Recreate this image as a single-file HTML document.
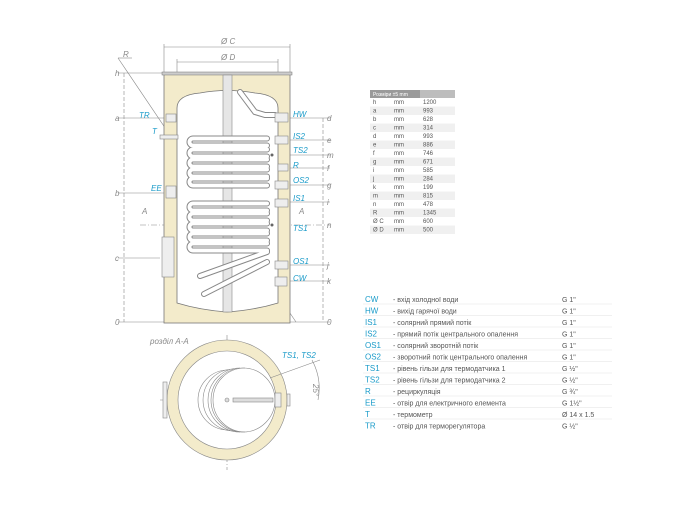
<!DOCTYPE html>
<html><head><meta charset="utf-8"><style>
body{margin:0;background:#fff;width:700px;height:500px;overflow:hidden}
svg text{font-family:"Liberation Sans",sans-serif}
</style></head><body>
<svg width="700" height="500" viewBox="0 0 700 500" xmlns="http://www.w3.org/2000/svg">
<defs>
<path id="lp" d="M267 -3.5 L193 -3.5 A3.5 3.5 0 0 0 193 3.5 L267 3.5"/>
</defs>
<g stroke="#888" stroke-width="0.6" fill="none">
<line x1="164" y1="47" x2="290" y2="47"/><line x1="164" y1="44" x2="164" y2="73"/><line x1="290" y1="44" x2="290" y2="73"/>
<line x1="177" y1="62" x2="278" y2="62"/><line x1="177" y1="59" x2="177" y2="95"/><line x1="278" y1="59" x2="278" y2="95"/>
<line x1="118" y1="73" x2="164" y2="73"/><line x1="118" y1="118" x2="176" y2="118"/><line x1="118" y1="193" x2="176" y2="193"/><line x1="118" y1="258" x2="160" y2="258"/><line x1="118" y1="322" x2="164" y2="322"/>
<line x1="124" y1="73" x2="124" y2="322" stroke-dasharray="4,2"/>
<line x1="290" y1="118" x2="330" y2="118"/><line x1="290" y1="140" x2="330" y2="140"/><line x1="290" y1="155" x2="330" y2="155"/><line x1="290" y1="168" x2="330" y2="168"/><line x1="290" y1="185" x2="330" y2="185"/><line x1="290" y1="202" x2="330" y2="202"/><line x1="140" y1="225" x2="330" y2="225" stroke-dasharray="6,2,1,2"/><line x1="290" y1="265" x2="330" y2="265"/><line x1="290" y1="281" x2="330" y2="281"/><line x1="290" y1="322" x2="330" y2="322"/>
<line x1="323" y1="118" x2="323" y2="322" stroke-dasharray="4,2"/>
<line x1="118" y1="58" x2="296" y2="322"/><line x1="118" y1="58" x2="132" y2="58"/>
</g>
<rect x="164" y="73" width="126" height="250" fill="#f3ebcb" stroke="#777" stroke-width="0.8"/>
<rect x="162" y="72" width="130" height="3" fill="#ccc" stroke="#777" stroke-width="0.5"/>
<path d="M177 108 Q177 95 200 93 Q227 88 255 93 Q278 95 278 108 L278 303 Q255 310 227 312 Q200 310 177 303 Z" fill="#fff" stroke="#777" stroke-width="0.8"/>
<rect x="223" y="75" width="9" height="237" fill="#e6e6e6" stroke="#888" stroke-width="0.6"/>
<g fill="none">
<g stroke="#888" stroke-width="6" stroke-linecap="round">
<path d="M240 92 L255 112 L265 115 L275 115"/>
<use href="#lp" y="142"/><use href="#lp" y="153"/><use href="#lp" y="163"/><use href="#lp" y="173"/><use href="#lp" y="182"/>
<use href="#lp" y="207"/><use href="#lp" y="217"/><use href="#lp" y="227"/><use href="#lp" y="237"/><use href="#lp" y="247"/>
<path d="M267 252 L200 276"/><path d="M267 262 L204 294"/>
</g>
<g stroke="#fff" stroke-width="4" stroke-linecap="round">
<path d="M240 92 L255 112 L265 115 L275 115"/>
<use href="#lp" y="142"/><use href="#lp" y="153"/><use href="#lp" y="163"/><use href="#lp" y="173"/><use href="#lp" y="182"/>
<use href="#lp" y="207"/><use href="#lp" y="217"/><use href="#lp" y="227"/><use href="#lp" y="237"/><use href="#lp" y="247"/>
<path d="M267 252 L200 276"/><path d="M267 262 L204 294"/>
</g></g>
<g fill="#eee" stroke="#888" stroke-width="0.6">
<rect x="275" y="113" width="13" height="9"/><rect x="275" y="136" width="13" height="8"/><rect x="278" y="164" width="10" height="7"/><rect x="275" y="181" width="13" height="8"/><rect x="275" y="199" width="13" height="8"/><rect x="275" y="261" width="13" height="8"/><rect x="275" y="277" width="12" height="9"/>
<rect x="166" y="114" width="10" height="8"/><rect x="166" y="186" width="10" height="12"/><rect x="162" y="237" width="12" height="40"/><rect x="160" y="135" width="18" height="4"/>
</g>
<circle cx="272" cy="155" r="1.5" fill="#666"/><circle cx="272" cy="225" r="1.5" fill="#666"/>
<g font-size="8" font-style="italic" fill="#1a9bc9">
<text x="139" y="118">TR</text><text x="152" y="134">T</text><text x="151" y="191">EE</text>
<text x="293" y="117">HW</text><text x="293" y="139">IS2</text><text x="293" y="153">TS2</text><text x="293" y="168">R</text><text x="293" y="183">OS2</text><text x="293" y="201">IS1</text><text x="293" y="231">TS1</text><text x="293" y="264">OS1</text><text x="293" y="281">CW</text>
<text x="282" y="358">TS1, TS2</text>
</g>
<g font-size="8" font-style="italic" fill="#888">
<text x="115" y="76">h</text><text x="115" y="121">a</text><text x="115" y="196">b</text><text x="115" y="261">c</text><text x="115" y="325">0</text><text x="123" y="57">R</text>
<text x="327" y="121">d</text><text x="327" y="143">e</text><text x="327" y="158">m</text><text x="327" y="171">f</text><text x="327" y="188">g</text><text x="327" y="205">i</text><text x="327" y="228">n</text><text x="327" y="268">j</text><text x="327" y="284">k</text><text x="327" y="325">0</text>
<text x="221" y="44">Ø C</text><text x="221" y="60">Ø D</text><text x="142" y="214">A</text><text x="299" y="214">A</text>
<text x="150" y="344">розділ А-А</text>
</g>
<g stroke="#888" stroke-width="0.6">
<line x1="160" y1="400" x2="292" y2="400" stroke-dasharray="6,2,1,2"/><line x1="227" y1="335" x2="227" y2="470" stroke-dasharray="6,2,1,2"/>
<circle cx="227" cy="400" r="60" fill="#f3ebcb"/><circle cx="227" cy="400" r="49" fill="#fff"/>
<circle cx="243" cy="400" r="32" fill="none"/>
<path d="M245 368 A32 32 0 0 0 245 432" fill="none"/><path d="M240 368 A32 32 0 0 0 240 432" fill="none"/><path d="M234 369 A31 31 0 0 0 234 431" fill="none"/><path d="M228 370 A30 30 0 0 0 228 430" fill="none"/>
<rect x="163" y="382" width="4" height="36" fill="#eee"/><rect x="275" y="393" width="6" height="14" fill="#eee"/><rect x="287" y="394" width="3" height="12" fill="#eee"/>
<rect x="233" y="398" width="40" height="4" fill="#ddd"/><circle cx="227" cy="400" r="2" fill="#ddd"/>
<line x1="270" y1="378" x2="320" y2="360"/><path d="M312 360 A60 60 0 0 1 318 400" fill="none"/>
</g>
<text x="313" y="384" font-size="8" fill="#888" font-style="italic" transform="rotate(90 313 384)">25°</text>
<rect x="370" y="90" width="50" height="8" fill="#9a9a9a"/><rect x="420" y="90" width="35" height="8" fill="#bdbdbd"/>
<text x="373" y="96" font-size="5" fill="#fff">Розміри ±5 mm</text>
<g font-size="6" fill="#555">
<g fill="#f0f0f0">
<rect x="370" y="106.5" width="85" height="8.5"/><rect x="370" y="123.5" width="85" height="8.5"/><rect x="370" y="140.5" width="85" height="8.5"/><rect x="370" y="157.5" width="85" height="8.5"/><rect x="370" y="174.5" width="85" height="8.5"/><rect x="370" y="191.5" width="85" height="8.5"/><rect x="370" y="208.5" width="85" height="8.5"/><rect x="370" y="225.5" width="85" height="8.5"/>
</g>
<text x="373" y="104">h</text><text x="394" y="104">mm</text><text x="423" y="104">1200</text>
<text x="373" y="112.5">a</text><text x="394" y="112.5">mm</text><text x="423" y="112.5">993</text>
<text x="373" y="121">b</text><text x="394" y="121">mm</text><text x="423" y="121">628</text>
<text x="373" y="129.5">c</text><text x="394" y="129.5">mm</text><text x="423" y="129.5">314</text>
<text x="373" y="138">d</text><text x="394" y="138">mm</text><text x="423" y="138">993</text>
<text x="373" y="146.5">e</text><text x="394" y="146.5">mm</text><text x="423" y="146.5">886</text>
<text x="373" y="155">f</text><text x="394" y="155">mm</text><text x="423" y="155">746</text>
<text x="373" y="163.5">g</text><text x="394" y="163.5">mm</text><text x="423" y="163.5">671</text>
<text x="373" y="172">i</text><text x="394" y="172">mm</text><text x="423" y="172">585</text>
<text x="373" y="180.5">j</text><text x="394" y="180.5">mm</text><text x="423" y="180.5">284</text>
<text x="373" y="189">k</text><text x="394" y="189">mm</text><text x="423" y="189">199</text>
<text x="373" y="197.5">m</text><text x="394" y="197.5">mm</text><text x="423" y="197.5">815</text>
<text x="373" y="206">n</text><text x="394" y="206">mm</text><text x="423" y="206">478</text>
<text x="373" y="214.5">R</text><text x="394" y="214.5">mm</text><text x="423" y="214.5">1345</text>
<text x="373" y="223">Ø C</text><text x="394" y="223">mm</text><text x="423" y="223">600</text>
<text x="373" y="231.5">Ø D</text><text x="394" y="231.5">mm</text><text x="423" y="231.5">500</text>
</g>
<g stroke="#e2e2e2" stroke-width="0.6">
<line x1="363" y1="304" x2="612" y2="304"/><line x1="363" y1="315.5" x2="612" y2="315.5"/><line x1="363" y1="327" x2="612" y2="327"/><line x1="363" y1="338.5" x2="612" y2="338.5"/><line x1="363" y1="350" x2="612" y2="350"/><line x1="363" y1="361.5" x2="612" y2="361.5"/><line x1="363" y1="373" x2="612" y2="373"/><line x1="363" y1="384.5" x2="612" y2="384.5"/><line x1="363" y1="396" x2="612" y2="396"/><line x1="363" y1="407.5" x2="612" y2="407.5"/><line x1="363" y1="419" x2="612" y2="419"/>
</g>
<g font-size="8" fill="#1a9bc9">
<text x="365" y="302">CW</text><text x="365" y="313.5">HW</text><text x="365" y="325">IS1</text><text x="365" y="336.5">IS2</text><text x="365" y="348">OS1</text><text x="365" y="359.5">OS2</text><text x="365" y="371">TS1</text><text x="365" y="382.5">TS2</text><text x="365" y="394">R</text><text x="365" y="405.5">EE</text><text x="365" y="417">T</text><text x="365" y="428.5">TR</text>
</g>
<g font-size="7" fill="#555">
<text x="393" y="302">- вхід холодної води</text><text x="393" y="313.5">- вихід гарячої води</text><text x="393" y="325">- солярний прямий потік</text><text x="393" y="336.5">- прямий потік центрального опалення</text><text x="393" y="348">- солярний зворотній потік</text><text x="393" y="359.5">- зворотний потік центрального опалення</text><text x="393" y="371">- рівень гільзи для термодатчика 1</text><text x="393" y="382.5">- рівень гільзи для термодатчика 2</text><text x="393" y="394">- рециркуляція</text><text x="393" y="405.5">- отвір для електричного елемента</text><text x="393" y="417">- термометр</text><text x="393" y="428.5">- отвір для терморегулятора</text>
<text x="562" y="302">G 1"</text><text x="562" y="313.5">G 1"</text><text x="562" y="325">G 1"</text><text x="562" y="336.5">G 1"</text><text x="562" y="348">G 1"</text><text x="562" y="359.5">G 1"</text><text x="562" y="371">G ½"</text><text x="562" y="382.5">G ½"</text><text x="562" y="394">G ¾"</text><text x="562" y="405.5">G 1½"</text><text x="562" y="417">Ø 14 x 1.5</text><text x="562" y="428.5">G ½"</text>
</g>
</svg>
</body></html>
